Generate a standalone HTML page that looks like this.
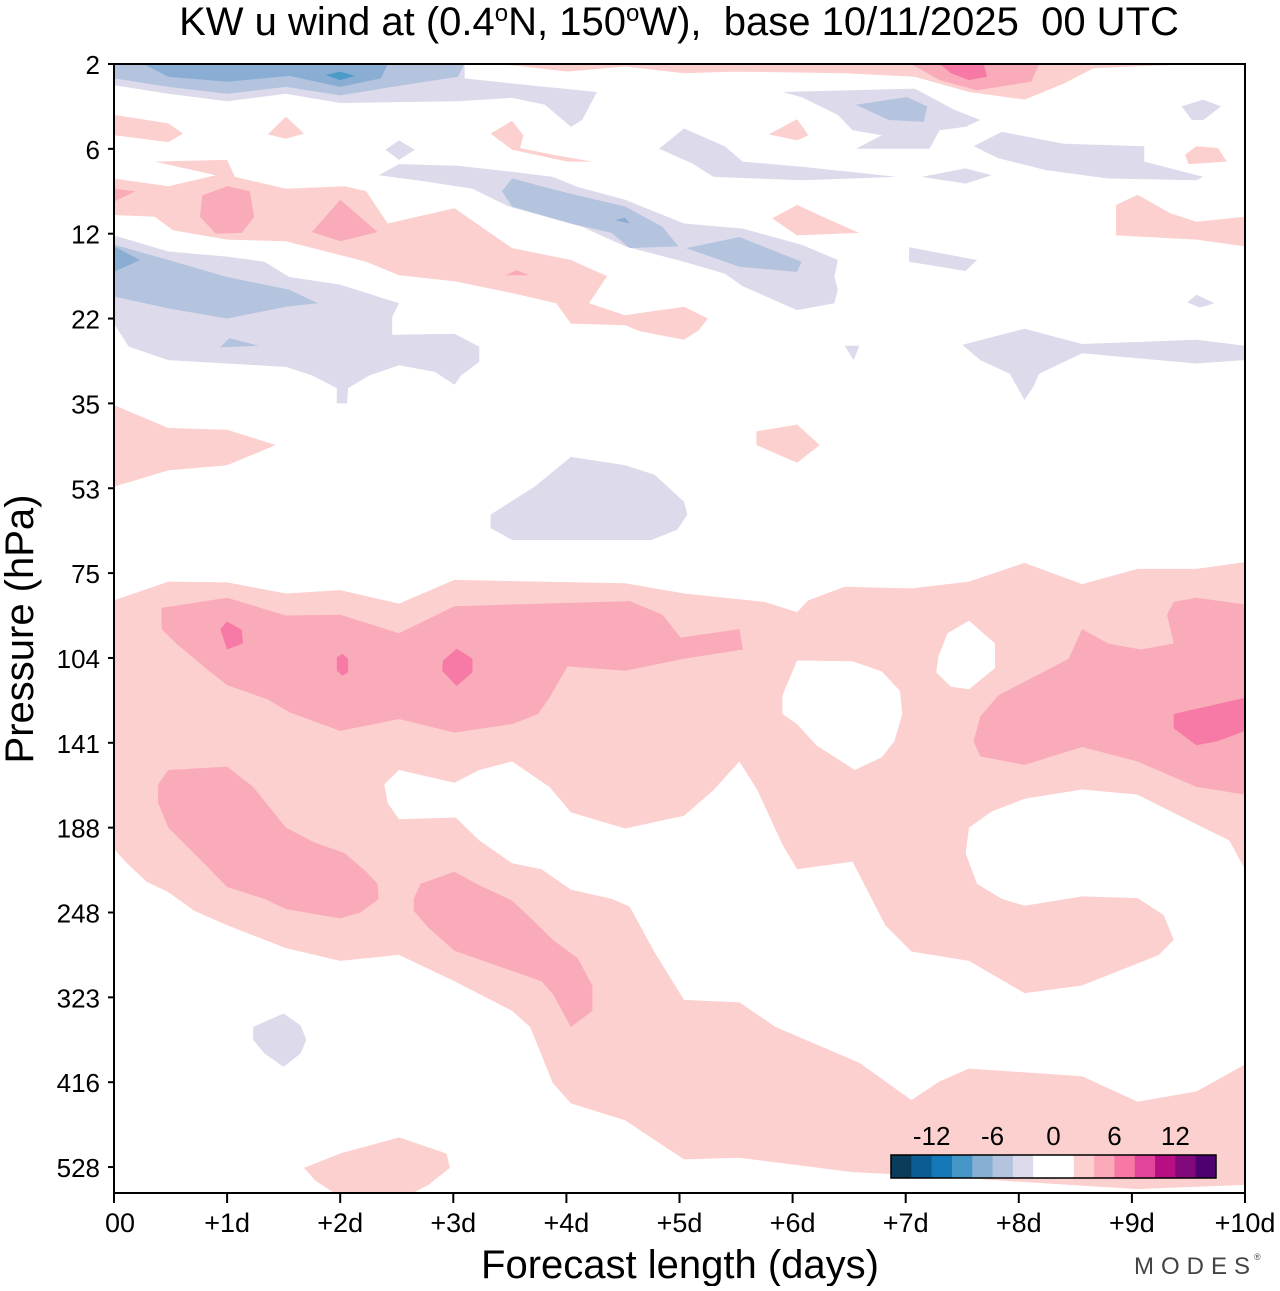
<!DOCTYPE html>
<html><head><meta charset="utf-8">
<style>
html,body{margin:0;padding:0;background:#fff;}
body{width:1280px;height:1286px;overflow:hidden;font-family:"Liberation Sans",sans-serif;}
</style></head>
<body>
<svg id="chart" width="1280" height="1286" xmlns="http://www.w3.org/2000/svg" font-family="Liberation Sans, sans-serif">
<text x="679" y="35" font-size="40" text-anchor="middle">KW u wind at (0.4<tspan dy="-14" font-size="24">o</tspan><tspan dy="14">N, 150</tspan><tspan dy="-14" font-size="24">o</tspan><tspan dy="14">W),&#160; base 10/11/2025&#160; 00 UTC</tspan></text>
<g id="contours"></g>
<rect x="114" y="64" width="1131" height="1129" fill="none" stroke="#000" stroke-width="2"/>
<g id="axes"></g>
<g id="cbar"></g>
<text transform="translate(33,629) rotate(-90)" font-size="40" text-anchor="middle">Pressure (hPa)</text>
<text x="680" y="1278" font-size="40" text-anchor="middle">Forecast length (days)</text>
<text x="1134" y="1274" font-size="24" fill="#444" letter-spacing="7">MODES</text>
<text x="1254" y="1260" font-size="9" fill="#444">®</text>
</svg>
<script>
const yLevels=["2","6","12","22","35","53","75","104","141","188","248","323","416","528"];
const xTicks=["00","+1d","+2d","+3d","+4d","+5d","+6d","+7d","+8d","+9d","+10d"];
const cbarColors=["#0a3d5c","#0a5c92","#1479b6","#4497c6","#85afd3","#b4c3de","#dcdaeb","#ffffff","#ffffff","#fcd0cf","#f9a9b8","#f777a5","#e2449b","#b80e84","#82097b","#4f0070"];
const cbarLabels=["-12","-6","0","6","12"];
const LP="#fcd0cf",MP="#f9abb9",DP="#f77aa6",LV="#dcdaeb",BG="#b4c3de",BL="#8aaed3",DB="#4b9ac8",WH="#ffffff";
// contour regions: [color, [day, levelIndex, ...]]
const regions=[
[LP,[0,6.32,0.48,6.10,1.00,6.11,1.52,6.24,2.00,6.20,2.52,6.36,3.01,6.08,4.52,6.12,5.04,6.24,5.75,6.34,6.04,6.46,6.14,6.32,6.46,6.16,7.05,6.18,7.56,6.10,8.05,5.88,8.56,6.13,9.05,5.95,9.57,5.95,10,5.87,10,13.21,9.05,13.26,8.08,13.18,7.30,13.11,6.53,13.06,5.53,12.89,5.04,12.91,4.52,12.45,4.04,12.25,3.88,12.01,3.68,11.35,3.52,11.16,3.01,10.81,2.52,10.50,2.00,10.57,1.52,10.42,1.00,10.15,0.71,9.98,0.48,9.76,0.29,9.64,0.10,9.40,0,9.25]],
[WH,[10,9.49,9.86,9.15,9.57,8.96,9.05,8.61,8.56,8.55,8.05,8.66,7.76,8.81,7.56,9.00,7.53,9.30,7.63,9.66,7.85,9.84,8.05,9.92,8.56,9.81,9.05,9.83,9.28,10.03,9.37,10.32,9.24,10.50,8.56,10.86,8.05,10.95,7.56,10.57,7.05,10.46,6.82,10.15,6.53,9.40,6.04,9.49,5.91,9.20,5.69,8.56,5.53,8.22,5.30,8.56,5.04,8.86,4.52,9.01,4.04,8.82,3.85,8.52,3.52,8.22,3.23,8.32,3.01,8.47,2.52,8.32,2.39,8.49,2.42,8.71,2.52,8.90,3.02,8.88,3.23,9.15,3.52,9.42,3.78,9.49,4.04,9.73,4.40,9.84,4.56,9.93,4.78,10.47,5.04,11.03,5.53,11.06,5.85,11.35,6.59,11.77,7.05,12.21,7.30,11.99,7.56,11.84,8.56,11.93,9.05,12.23,9.57,12.11,10,11.79]],
[WH,[7.56,6.56,7.79,6.83,7.79,7.12,7.56,7.37,7.40,7.34,7.27,7.17,7.29,6.98,7.37,6.71]],
[WH,[6.04,7.03,6.53,7.04,6.79,7.16,6.95,7.39,6.97,7.66,6.90,7.98,6.79,8.17,6.55,8.32,6.21,8.03,6.04,7.78,5.91,7.66,5.91,7.44]],
[MP,[0.42,6.41,1.00,6.29,1.52,6.50,2.00,6.49,2.52,6.71,3.01,6.39,4.56,6.33,4.85,6.49,5.01,6.76,5.53,6.66,5.56,6.90,5.04,7.01,4.52,7.15,4.01,7.10,3.85,7.47,3.75,7.66,3.52,7.78,3.01,7.88,2.52,7.72,2.00,7.86,1.55,7.64,1.36,7.49,1.00,7.32,0.81,7.12,0.55,6.83,0.42,6.66]],
[DP,[0.94,6.66,1.00,6.57,1.13,6.67,1.14,6.83,1.00,6.90]],
[DP,[1.97,6.99,2.02,6.95,2.07,7.01,2.07,7.17,2.02,7.21,1.97,7.15]],
[DP,[2.91,7.03,3.03,6.89,3.17,7.01,3.17,7.17,3.03,7.33,2.90,7.15]],
[MP,[9.31,6.49,9.37,6.34,9.57,6.29,10,6.37,10,8.61,9.57,8.52,9.05,8.22,8.56,8.05,8.05,8.26,7.66,8.16,7.60,7.98,7.66,7.69,7.82,7.44,8.21,7.17,8.44,7.01,8.56,6.66,8.79,6.83,9.08,6.90,9.37,6.83]],
[DP,[9.37,7.66,10,7.47,10,7.86,9.76,7.98,9.57,8.03,9.37,7.83]],
[MP,[0.48,8.32,1.00,8.28,1.23,8.52,1.52,9.00,1.78,9.18,2.04,9.30,2.23,9.52,2.33,9.66,2.34,9.84,2.18,10.0,2.00,10.07,1.52,9.96,1.33,9.84,1.00,9.70,0.81,9.44,0.48,9.00,0.39,8.71,0.39,8.49]],
[MP,[2.71,9.66,3.01,9.52,3.23,9.68,3.52,9.86,3.68,10.06,3.88,10.32,4.10,10.54,4.23,10.86,4.23,11.16,4.04,11.35,3.88,10.96,3.78,10.81,3.52,10.69,3.01,10.45,2.78,10.18,2.65,9.98,2.65,9.84]],
[LV,[1.23,11.35,1.50,11.19,1.65,11.33,1.70,11.50,1.65,11.66,1.50,11.82,1.33,11.66,1.23,11.50]],
[LP,[1.68,13.01,2.00,12.84,2.52,12.65,2.94,12.84,2.97,13.01,2.78,13.21,2.65,13.3,1.94,13.3,1.78,13.16]],
[LV,[0,0,3.10,0,3.10,0.17,3.52,0.23,4.27,0.33,4.14,0.66,4.04,0.74,3.81,0.48,3.52,0.40,3.04,0.44,2.00,0.46,1.52,0.35,1.00,0.44,0.48,0.35,0,0.25]],
[BG,[0,0,3.10,0,3.04,0.15,2.46,0.27,2.0,0.37,1.52,0.27,1.0,0.35,0.48,0.27,0,0.17]],
[BL,[0.26,0,2.42,0,2.36,0.17,2.0,0.27,1.55,0.14,1.0,0.21,0.48,0.15]],
[DB,[1.87,0.13,2.0,0.09,2.13,0.14,2.0,0.19]],
[LP,[3.36,0,9.57,0,8.66,0.05,8.40,0.23,8.05,0.42,7.56,0.33,7.08,0.15,6.46,0.11,5.49,0.09,5.04,0.11,4.52,0.03,4.01,0.09,3.56,0.02]],
[MP,[7.05,0,8.18,0,8.11,0.21,7.63,0.31,7.30,0.19]],
[DP,[7.30,0,7.69,0,7.72,0.15,7.56,0.19,7.40,0.11]],
[LV,[5.91,0.33,7.08,0.29,7.43,0.54,7.66,0.66,7.53,0.74,7.30,0.78,7.21,1.0,6.56,1.0,6.79,0.84,6.53,0.78,6.40,0.60,6.08,0.39]],
[BG,[6.56,0.48,7.01,0.39,7.19,0.50,7.16,0.68,6.85,0.66]],
[LV,[9.44,0.50,9.63,0.42,9.79,0.50,9.63,0.66,9.53,0.66]],
[LV,[7.60,0.97,7.85,0.80,8.40,0.94,9.11,0.97,9.11,1.15,9.63,1.33,9.57,1.37,8.79,1.35,8.24,1.25,7.82,1.11]],
[LP,[9.57,0.97,9.76,0.99,9.84,1.15,9.50,1.18,9.47,1.07]],
[LV,[7.14,1.33,7.53,1.23,7.76,1.31,7.53,1.41]],
[LV,[4.82,1.0,5.04,0.76,5.40,0.97,5.56,1.15,6.08,1.21,6.92,1.33,6.08,1.37,5.30,1.33,5.11,1.17]],
[LP,[5.79,0.83,6.04,0.65,6.14,0.84,6.04,0.90]],
[LP,[3.33,0.82,3.52,0.67,3.62,0.84,3.59,0.99,3.88,1.07,4.23,1.15,4.01,1.15,3.52,1.01]],
[LV,[2.40,1.01,2.52,0.90,2.66,1.01,2.52,1.13]],
[LP,[0,0.60,0.48,0.70,0.61,0.82,0.48,0.92,0,0.84]],
[LP,[1.36,0.83,1.52,0.62,1.68,0.82,1.52,0.88]],
[LP,[0,1.35,0.48,1.44,0.90,1.31,0.36,1.15,1.0,1.13,1.07,1.33,1.52,1.47,2.04,1.44,2.23,1.50,2.42,1.88,3.01,1.70,3.52,2.17,4.04,2.31,4.36,2.50,4.20,2.82,4.52,2.96,5.04,2.86,5.25,3.0,5.17,3.14,5.04,3.25,4.65,3.15,4.52,3.08,4.04,3.06,3.91,2.82,3.52,2.70,3.01,2.56,2.52,2.49,2.23,2.33,1.52,2.09,1.0,2.07,0.52,1.96,0.36,1.80,0,1.78]],
[MP,[0.78,1.55,1.0,1.44,1.20,1.50,1.24,1.80,1.13,1.99,0.90,2.0,0.76,1.80]],
[MP,[1.75,1.98,2.0,1.60,2.33,1.98,2.0,2.09]],
[MP,[0,1.47,0.19,1.50,0,1.62]],
[MP,[3.46,2.49,3.56,2.43,3.67,2.49]],
[LV,[2.34,1.31,2.52,1.18,3.04,1.20,3.52,1.27,3.88,1.33,4.10,1.45,4.52,1.60,5.04,1.88,5.56,1.94,6.08,2.13,6.40,2.31,6.37,2.51,6.40,2.66,6.37,2.82,6.04,2.90,5.56,2.62,5.40,2.47,5.04,2.33,4.52,2.15,4.14,1.92,3.49,1.68,3.17,1.47,2.78,1.39]],
[BG,[3.43,1.50,3.52,1.35,4.01,1.52,4.52,1.68,4.85,1.92,4.99,2.15,4.56,2.17,4.40,1.99,4.04,1.88,3.52,1.68]],
[BG,[5.06,2.17,5.53,2.04,6.08,2.33,6.04,2.45,5.53,2.39]],
[BL,[4.43,1.84,4.52,1.81,4.56,1.88]],
[LV,[0,2.02,0.48,2.21,1.0,2.27,1.33,2.33,1.55,2.51,2.0,2.60,2.52,2.82,2.46,2.98,2.46,3.19,3.01,3.18,3.23,3.33,3.23,3.51,3.07,3.67,3.01,3.78,2.84,3.63,2.52,3.55,2.26,3.67,2.07,3.82,2.06,4.0,1.97,4.0,1.97,3.82,1.75,3.67,1.52,3.57,1.0,3.53,0.48,3.49,0.13,3.33,0,3.06]],
[BG,[0,2.13,0.48,2.31,1.0,2.51,1.55,2.66,1.80,2.82,1.52,2.86,1.0,3.0,0.48,2.88,0,2.74]],
[BL,[0,2.15,0.23,2.31,0,2.45]],
[BG,[0.94,3.34,1.02,3.23,1.28,3.32]],
[LV,[7.50,3.31,8.05,3.12,8.56,3.30,9.57,3.25,10.0,3.32,9.99,3.49,9.57,3.53,8.56,3.41,8.18,3.65,8.13,3.80,8.05,3.96,7.92,3.65,7.66,3.49]],
[LV,[6.46,3.32,6.59,3.32,6.54,3.49]],
[LV,[7.03,2.16,7.63,2.31,7.53,2.44,7.03,2.33]],
[LV,[9.49,2.81,9.57,2.72,9.73,2.82,9.60,2.87]],
[LP,[8.86,1.66,9.05,1.54,9.34,1.76,9.57,1.86,10.0,1.80,10,2.15,9.57,2.07,8.86,2.02]],
[LP,[5.82,1.82,6.04,1.66,6.33,1.84,6.59,1.99,6.04,2.02]],
[LP,[0,4.02,0.48,4.29,1.0,4.31,1.43,4.49,1.0,4.73,0.48,4.79,0,4.98]],
[LP,[5.68,4.33,6.04,4.25,6.24,4.49,6.04,4.70,5.68,4.49]],
[LV,[3.33,5.31,3.72,4.98,4.04,4.63,4.52,4.73,4.78,4.84,5.04,5.16,5.07,5.31,4.98,5.49,4.75,5.61,3.52,5.61,3.33,5.47]]
];
const NS="http://www.w3.org/2000/svg";
const X0=114,X1=1245,Y0=64,YB=1193,DY=84.85;
function xScale(d){return X0+d*(X1-X0)/10;}
function yScale(i){return Y0+i*DY;}
const cg=document.getElementById('contours');
regions.forEach((r,k)=>{
  const p=document.createElementNS(NS,'polygon');
  const a=r[1];let s=[];
  for(let j=0;j<a.length;j+=2){s.push(xScale(a[j]).toFixed(1)+','+Math.min(YB,yScale(a[j+1])).toFixed(1));}
  p.setAttribute('points',s.join(' '));
  p.setAttribute('fill',r[0]);
  
  
  cg.appendChild(p);
});
const ax=document.getElementById('axes');
yLevels.forEach((lab,i)=>{
  const y=yScale(i);
  const t=document.createElementNS(NS,'line');
  t.setAttribute('x1',X0-6);t.setAttribute('x2',X0);t.setAttribute('y1',y);t.setAttribute('y2',y);
  t.setAttribute('stroke','#000');t.setAttribute('stroke-width','2');
  
  
  ax.appendChild(t);
  const tx=document.createElementNS(NS,'text');
  tx.setAttribute('x',X0-14);tx.setAttribute('y',y+10);
  tx.setAttribute('text-anchor','end');tx.setAttribute('font-size','26');
  tx.textContent=lab;
  
  
  ax.appendChild(tx);
});
xTicks.forEach((lab,i)=>{
  const x=xScale(i);
  const t=document.createElementNS(NS,'line');
  t.setAttribute('x1',x);t.setAttribute('x2',x);t.setAttribute('y1',YB);t.setAttribute('y2',YB+10);
  t.setAttribute('stroke','#000');t.setAttribute('stroke-width','2');
  
  
  ax.appendChild(t);
  const tx=document.createElementNS(NS,'text');
  tx.setAttribute('x',i===0?x+6:x);tx.setAttribute('y',YB+39);
  tx.setAttribute('text-anchor','middle');tx.setAttribute('font-size','27');
  tx.textContent=lab;
  
  
  ax.appendChild(tx);
});
const cb=document.getElementById('cbar');
const CBX=891,CBY=1155,CBW=325,CBH=23,bw=CBW/cbarColors.length;
cbarColors.forEach((c,i)=>{
  const r=document.createElementNS(NS,'rect');
  r.setAttribute('x',CBX+i*bw);r.setAttribute('y',CBY);r.setAttribute('width',bw+0.5);r.setAttribute('height',CBH);
  r.setAttribute('fill',c);
  
  
  cb.appendChild(r);
});
const fr=document.createElementNS(NS,'rect');
fr.setAttribute('x',CBX);fr.setAttribute('y',CBY);fr.setAttribute('width',CBW);fr.setAttribute('height',CBH);
fr.setAttribute('fill','none');fr.setAttribute('stroke','#000');fr.setAttribute('stroke-width','1.5');


cb.appendChild(fr);
cbarLabels.forEach((l,i)=>{
  const tx=document.createElementNS(NS,'text');
  tx.setAttribute('x',CBX+bw*(2+3*i));tx.setAttribute('y',CBY-10);
  tx.setAttribute('text-anchor','middle');tx.setAttribute('font-size','26');
  tx.textContent=l;
  
  
  cb.appendChild(tx);
});
</script>
</body></html>
